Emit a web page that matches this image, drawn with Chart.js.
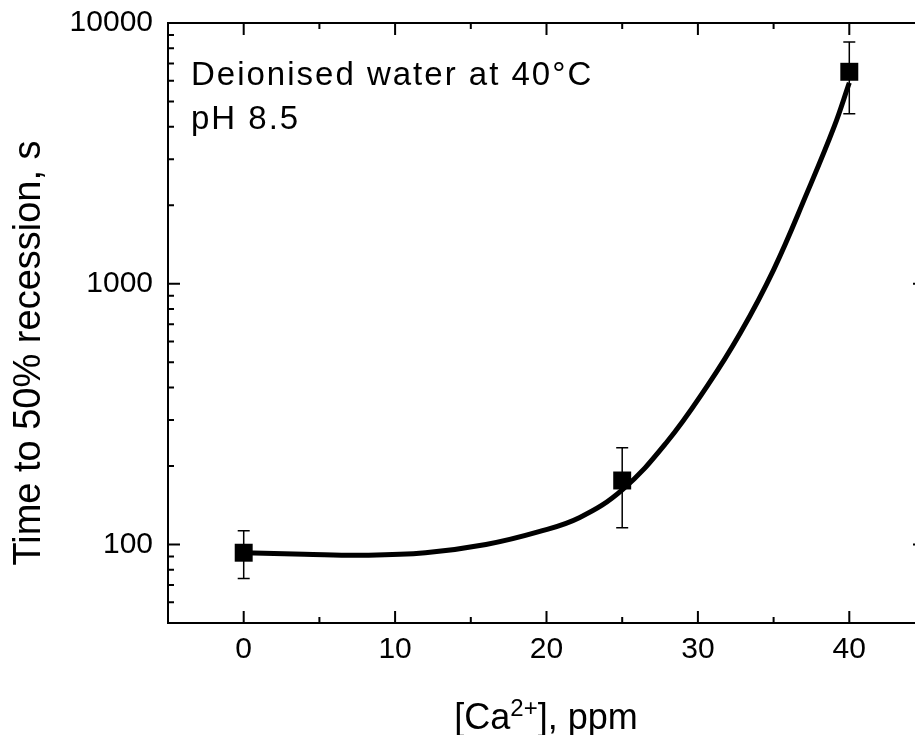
<!DOCTYPE html>
<html>
<head>
<meta charset="utf-8">
<script src="https://cdn.jsdelivr.net/npm/chart.js@4.4.1/dist/chart.umd.min.js"></script>
<style>
html, body { margin: 0; padding: 0; background: #fff; overflow: hidden; }
</style>
</head>
<body>
<canvas id="myChart" width="925" height="735"></canvas>
<script>
// measured points with error bars
const concentrations = [0, 25, 40]
const recessionTimes = [93, 176, 6500]
const errorLow = [74, 116, 4490]
const errorHigh = [113, 235, 8460]

// fitted curve
const fitConcentrations = [0, 4, 8, 12, 16, 19.5, 22.2, 25, 27.9, 30.6, 32.8, 35, 37.2, 39, 40]
const fitTimes = [93, 91.8, 91, 93, 100, 112, 127, 162, 245, 404, 647, 1131, 2226, 4004, 5900]

const xTicks = [0, 10, 20, 30, 40]
const xMinorTicks = [5, 15, 25, 35]
const yTicks = [100, 1000, 10000]
const yMinorTicks = [60, 70, 80, 90, 200, 300, 400, 500, 600, 700, 800, 900,
    2000, 3000, 4000, 5000, 6000, 7000, 8000, 9000]

const fontFamily = '"Liberation Sans", Arial, sans-serif'

const frame = {
    id: 'frame',
    beforeDatasetsDraw(chart) {
        const { ctx, scales: { x, y } } = chart
        ctx.save()
        ctx.strokeStyle = '#000'
        ctx.lineWidth = 1.5
        concentrations.forEach((c, i) => {
            const px = x.getPixelForValue(c)
            const top = y.getPixelForValue(errorHigh[i])
            const bottom = y.getPixelForValue(errorLow[i])
            ctx.beginPath()
            ctx.moveTo(px, top); ctx.lineTo(px, bottom)
            ctx.moveTo(px - 6, top); ctx.lineTo(px + 6, top)
            ctx.moveTo(px - 6, bottom); ctx.lineTo(px + 6, bottom)
            ctx.stroke()
        })
        ctx.restore()
    },
    afterDatasetsDraw(chart) {
        const { ctx, chartArea: { left, right, top, bottom }, scales: { x, y } } = chart
        ctx.save()
        ctx.strokeStyle = '#000'
        ctx.lineWidth = 2
        ctx.strokeRect(left, top, right - left, bottom - top)

        ctx.beginPath()
        const xTick = (v, len) => {
            const px = x.getPixelForValue(v)
            ctx.moveTo(px, bottom); ctx.lineTo(px, bottom - len)
            ctx.moveTo(px, top); ctx.lineTo(px, top + len)
        }
        const yTick = (v, len) => {
            const py = y.getPixelForValue(v)
            ctx.moveTo(left, py); ctx.lineTo(left + len, py)
            ctx.moveTo(right, py); ctx.lineTo(right - len, py)
        }
        xTicks.forEach(v => xTick(v, 12))
        xMinorTicks.forEach(v => xTick(v, 6))
        yTicks.forEach(v => yTick(v, 12))
        yMinorTicks.forEach(v => yTick(v, 6))
        ctx.stroke()

        ctx.fillStyle = '#000'

        // note in the corner
        ctx.font = '33px ' + fontFamily
        ctx.letterSpacing = '2px'
        ctx.textAlign = 'left'
        ctx.textBaseline = 'alphabetic'
        ctx.fillText('Deionised water at 40°C', 191, 85)
        ctx.fillText('pH 8.5', 191, 129)
        ctx.letterSpacing = '0px'

        // x axis title with superscript
        const big = '36px ' + fontFamily
        const small = '24px ' + fontFamily
        ctx.font = big
        const w1 = ctx.measureText('[Ca').width
        const w3 = ctx.measureText('], ppm').width
        ctx.font = small
        const w2 = ctx.measureText('2+').width
        let tx = 546 - (w1 + w2 + w3) / 2
        ctx.font = big
        ctx.fillText('[Ca', tx, 729)
        tx += w1
        ctx.font = small
        ctx.fillText('2+', tx, 716)
        tx += w2
        ctx.font = big
        ctx.fillText('], ppm', tx, 729)

        // y axis title
        ctx.translate(30, 353)
        ctx.rotate(-Math.PI / 2)
        ctx.font = '38px ' + fontFamily
        ctx.textAlign = 'center'
        ctx.textBaseline = 'middle'
        ctx.fillText('Time to 50% recession, s', 0, 0)
        ctx.restore()
    }
}

const ctx = document.getElementById('myChart')

new Chart(ctx, {
    type: 'line',
    data: {
        datasets: [{
            label: 'Data',
            data: concentrations.map((c, i) => ({ x: c, y: recessionTimes[i] })),
            showLine: false,
            pointStyle: 'rect',
            pointRadius: 12.7,
            pointBackgroundColor: '#000',
            pointBorderWidth: 0,
            order: 1
        }, {
            label: 'Fit',
            data: fitConcentrations.map((c, i) => ({ x: c, y: fitTimes[i] })),
            borderColor: '#000',
            borderWidth: 5,
            pointRadius: 0,
            tension: 0.4,
            fill: false,
            order: 2
        }]
    },
    options: {
        responsive: false,
        animation: false,
        layout: { autoPadding: false, padding: { top: 23, left: 0, right: 0, bottom: 0 } },
        plugins: {
            legend: { display: false },
            tooltip: { enabled: false }
        },
        scales: {
            x: {
                type: 'linear',
                min: -5,
                max: 45,
                grid: { display: false, drawTicks: false },
                border: { display: false },
                afterBuildTicks: scale => { scale.ticks = xTicks.map(v => ({ value: v })) },
                afterFit: scale => {
                    scale.height = 112
                    scale.paddingLeft = 0
                    scale.paddingRight = 0
                },
                ticks: {
                    color: '#000',
                    padding: 9,
                    font: { size: 30, family: fontFamily },
                    callback: v => String(v)
                }
            },
            y: {
                type: 'logarithmic',
                min: 50,
                max: 10000,
                grid: { display: false, drawTicks: false },
                border: { display: false },
                afterBuildTicks: scale => { scale.ticks = yTicks.map(v => ({ value: v })) },
                afterFit: scale => {
                    scale.width = 168
                    scale.paddingTop = 0
                    scale.paddingBottom = 0
                },
                ticks: {
                    color: '#000',
                    padding: 15,
                    font: { size: 30, family: fontFamily },
                    callback: v => String(v)
                }
            }
        }
    },
    plugins: [frame]
});
</script>
</body>
</html>
